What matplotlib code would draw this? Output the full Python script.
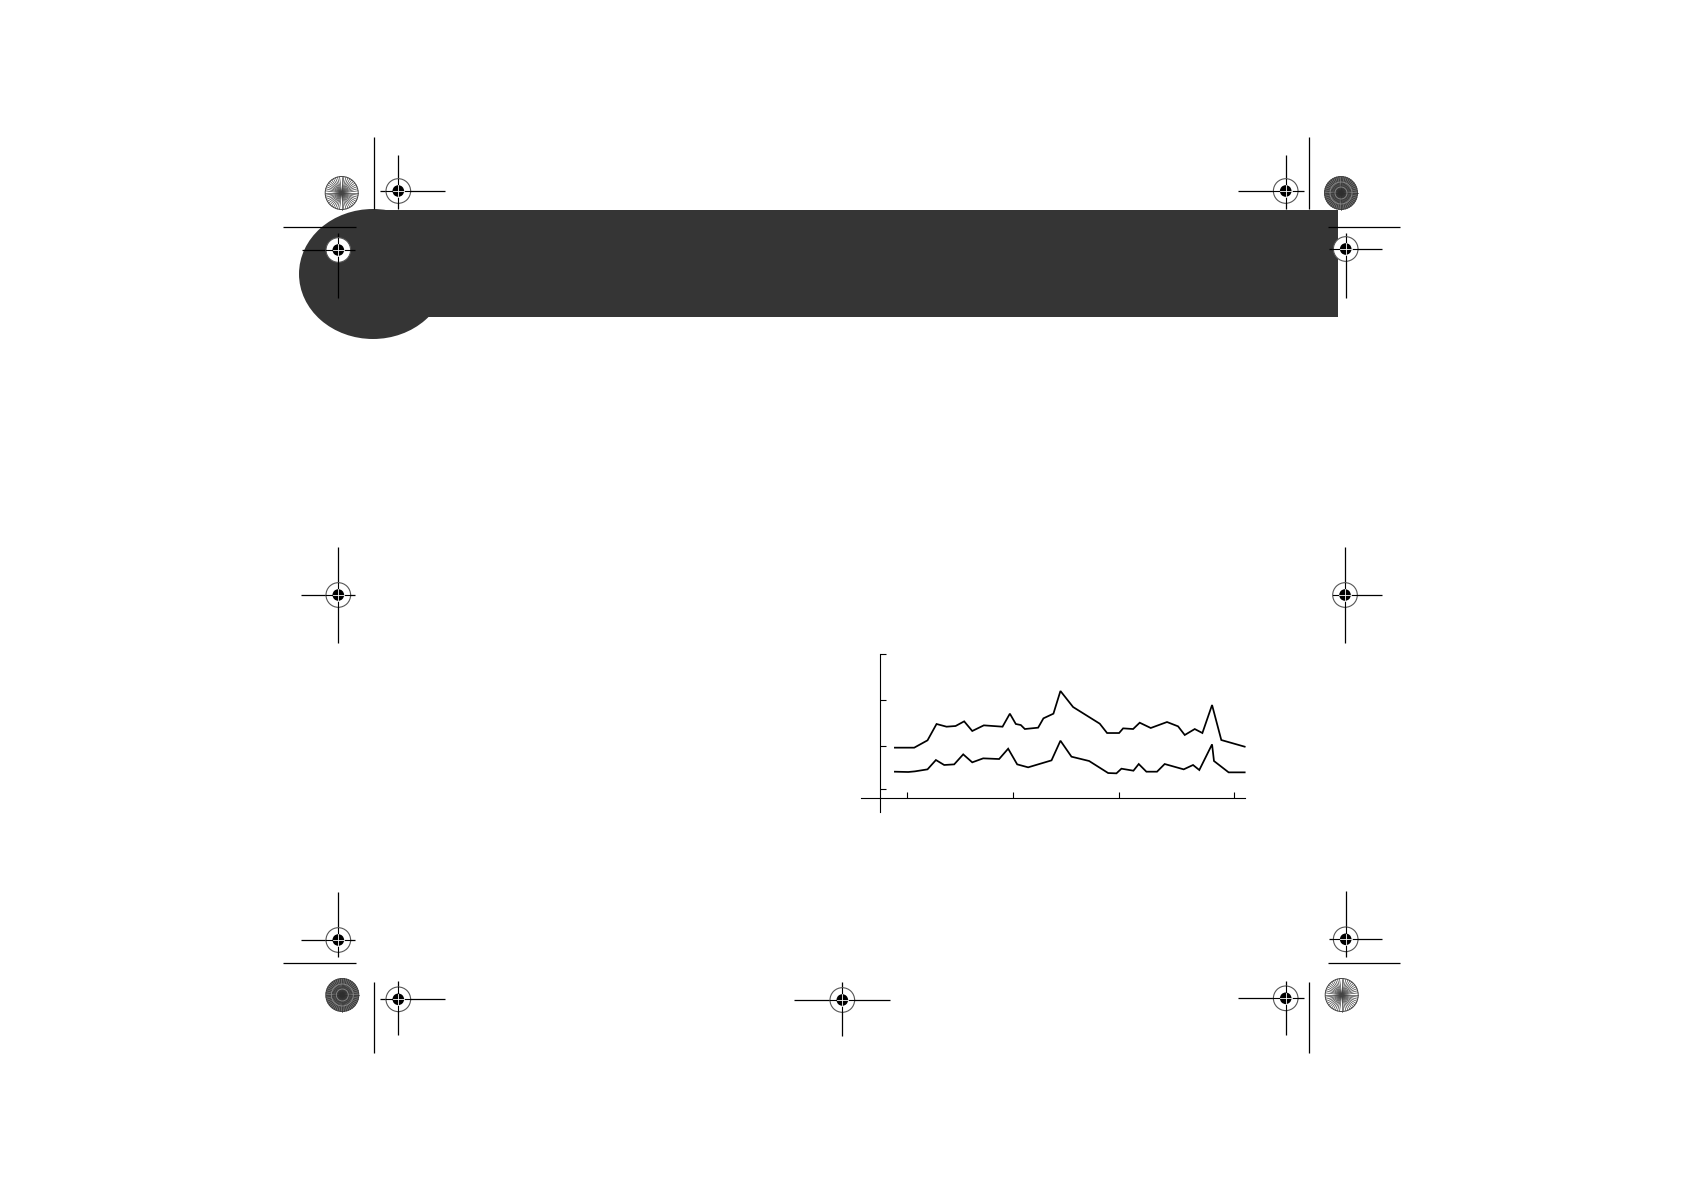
import numpy as np
import matplotlib
matplotlib.use('Agg')
import matplotlib.pyplot as plt
from matplotlib.patches import Rectangle, Ellipse, Circle

# chart data (arbitrary units)
upper_x = [-0.110, 0.072, 0.197, 0.282, 0.376, 0.461, 0.542, 0.618, 0.727, 0.903,
           0.972, 1.028, 1.075, 1.113, 1.238, 1.288, 1.382, 1.448, 1.567, 1.818,
           1.887, 2.000, 2.038, 2.132, 2.194, 2.298, 2.451, 2.555, 2.618, 2.712,
           2.784, 2.875, 2.962, 3.182]
upper_y = [0.921, 0.921, 1.084, 1.448, 1.388, 1.403, 1.507, 1.292, 1.418, 1.388,
           1.678, 1.448, 1.425, 1.336, 1.366, 1.574, 1.678, 2.183, 1.826, 1.455,
           1.247, 1.247, 1.351, 1.336, 1.477, 1.359, 1.492, 1.396, 1.203, 1.336,
           1.247, 1.871, 1.091, 0.943]

lower_x = [-0.110, 0.016, 0.078, 0.197, 0.276, 0.354, 0.448, 0.533, 0.618, 0.721,
           0.871, 0.956, 1.041, 1.144, 1.364, 1.448, 1.552, 1.718, 1.897, 1.975,
           2.022, 2.135, 2.185, 2.257, 2.357, 2.429, 2.608, 2.696, 2.755, 2.875,
           2.893, 3.031, 3.182]
lower_y = [0.386, 0.379, 0.393, 0.438, 0.646, 0.535, 0.549, 0.772, 0.594, 0.683,
           0.668, 0.898, 0.549, 0.483, 0.638, 1.076, 0.720, 0.624, 0.356, 0.349,
           0.453, 0.408, 0.557, 0.386, 0.386, 0.557, 0.438, 0.535, 0.423, 0.995,
           0.624, 0.371, 0.371]

x_ticks = [0, 1, 2, 3.08]
y_ticks = [0, 0.96, 1.98, 3.0]

W, H = 1684, 1190
fig = plt.figure(figsize=(W / 100, H / 100), dpi=100)
fig.patch.set_facecolor('white')

# page layer in pixel coordinates
bg = fig.add_axes([0, 0, 1, 1])
bg.set_xlim(0, W)
bg.set_ylim(H, 0)
bg.axis('off')

dark = '#353535'
bg.add_patch(Rectangle((360, 210), 1338 - 360, 317 - 210, color=dark, lw=0))
bg.add_patch(Ellipse((373, 274), 148, 130, color=dark, lw=0))


def line(x0, y0, x1, y1):
    bg.plot([x0, x1], [y0, y1], color='black', lw=0.9, solid_capstyle='butt')


def target(cx, cy, left, right, up, down):
    line(cx - left, cy, cx + right, cy)
    line(cx, cy - up, cx, cy + down)
    bg.add_patch(Circle((cx, cy), 12.3, facecolor='white', edgecolor='#555555', lw=0.8, zorder=3))
    bg.add_patch(Circle((cx, cy), 5.8, facecolor='black', lw=0, zorder=4))
    bg.plot([cx - 12.3, cx + 12.3], [cy, cy], color='black', lw=0.8, zorder=3.5)
    bg.plot([cx, cx], [cy - 12.3, cy + 12.3], color='black', lw=0.8, zorder=3.5)
    bg.plot([cx - 5.8, cx + 5.8], [cy, cy], color='white', lw=0.6, zorder=5)
    bg.plot([cx, cx], [cy - 5.8, cy + 5.8], color='white', lw=0.6, zorder=5)


def starburst(cx, cy, shaded):
    r = 16.5
    face = '#6e6e6e' if shaded else 'white'
    bg.add_patch(Circle((cx, cy), r, facecolor=face, edgecolor='#444444', lw=0.7, zorder=3))
    n = 24
    for a in np.linspace(0, np.pi, n, endpoint=False):
        bg.plot([cx - r * np.cos(a), cx + r * np.cos(a)],
                [cy - r * np.sin(a), cy + r * np.sin(a)],
                color='#2e2e2e' if shaded else '#444444', lw=0.5, zorder=3.2)
    if shaded:
        for rr in [6, 11]:
            bg.add_patch(Circle((cx, cy), rr, facecolor='none', edgecolor='#8c8c8c', lw=0.6, zorder=3.3))


# crop lines
line(374.3, 137, 374.3, 209)
line(1309.3, 137, 1309.3, 209)
line(283, 226.7, 356, 226.7)
line(1328, 227, 1400, 227)
line(283, 962.7, 356, 962.7)
line(1328, 962.7, 1400, 962.7)
line(374.3, 982, 374.3, 1053)
line(1309.3, 982, 1309.3, 1053)

# registration targets
target(398.3, 191, 18, 47, 36, 18)
target(1285.7, 191, 48, 18, 36, 18)
target(338.3, 250, 36, 17, 17, 48)
target(1345.7, 249, 17, 36, 16, 49)
target(338.3, 595, 37, 17, 48, 48)
target(1345, 595, 12.3, 37, 48, 48)
target(338.3, 940, 37, 17, 48, 17)
target(1345.7, 939.3, 17, 36, 48, 18)
target(398.3, 999.3, 18, 47, 18, 36)
target(1285.7, 998.3, 48, 18, 17, 37)
target(842.3, 1000, 48, 48, 18, 36)

starburst(341.7, 193, False)
starburst(1341, 193, True)
starburst(342.3, 995, True)
starburst(1341.7, 995, False)

# the line chart
x0, x1 = 861, 1245
y0, y1 = 654.3, 811.7
ax = fig.add_axes([x0 / W, 1 - y1 / H, (x1 - x0) / W, (y1 - y0) / H])
ax.patch.set_alpha(0)
ax.plot(upper_x, upper_y, color='black', lw=1.25, solid_joinstyle='miter', clip_on=False)
ax.plot(lower_x, lower_y, color='black', lw=1.25, solid_joinstyle='miter', clip_on=False)
ax.set_xlim(-0.429, 3.185)
ax.set_ylim(-0.505, 3.0)
ax.spines['top'].set_visible(False)
ax.spines['right'].set_visible(False)
ax.spines['left'].set_position(('data', -0.251))
ax.spines['bottom'].set_position(('data', -0.208))
for s in ['left', 'bottom']:
    ax.spines[s].set_linewidth(0.8)
ax.set_xticks(x_ticks)
ax.set_yticks(y_ticks)
ax.set_xticklabels([])
ax.set_yticklabels([])
ax.tick_params(direction='in', length=4.5, width=0.8)

fig.savefig('out.png', dpi=100)
